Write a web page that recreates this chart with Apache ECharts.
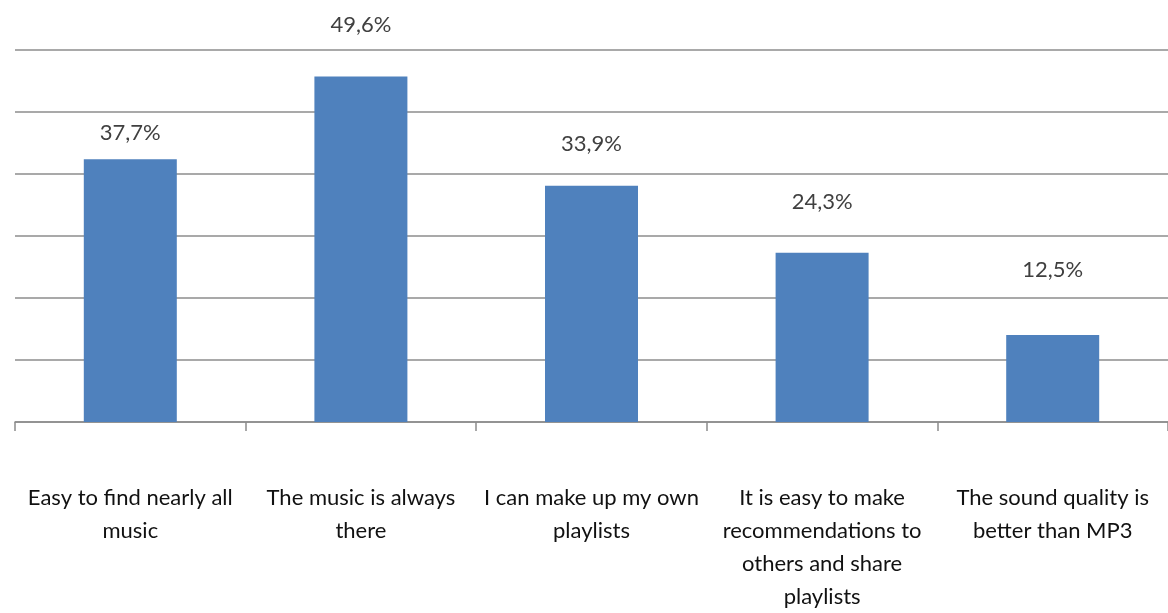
<!DOCTYPE html>
<html>
<head>
<meta charset="utf-8">
<title>Reasons for using streaming music</title>
<script src="https://cdn.jsdelivr.net/npm/echarts@6/dist/echarts.min.js"></script>
<style>
  html, body { margin: 0; padding: 0; background: #ffffff; }
  #chart { width: 1168px; height: 613px; }
</style>
</head>
<body>
<div id="chart"></div>
<script>
// Survey answers (share of respondents, %)
var categories = [
  'Easy to find nearly all\nmusic',
  'The music is always\nthere',
  'I can make up my own\nplaylists',
  'It is easy to make\nrecommendations to\nothers and share\nplaylists',
  'The sound quality is\nbetter than MP3'
];
var shares = [37.7, 49.6, 33.9, 24.3, 12.5];
// Gap between each value label and the top of its bar
var labelGaps = [15, 41, 31, 40, 54];

var gridColor = '#8c8c8c';
var fontFamily = 'Lato, "Open Sans", sans-serif';

var chart = echarts.init(document.getElementById('chart'), null, { renderer: 'canvas' });

chart.setOption({
  animation: false,
  grid: { left: 15, right: 0, top: 50, bottom: 185.5, containLabel: false },
  xAxis: {
    type: 'category',
    data: categories,
    boundaryGap: true,
    axisLine: { show: true, lineStyle: { color: gridColor, width: 1.5 } },
    axisTick: { show: true, length: 9, lineStyle: { color: gridColor, width: 1.5 } },
    axisLabel: {
      interval: 0,
      margin: 59,
      color: '#111111',
      fontFamily: fontFamily,
      fontSize: 22,
      lineHeight: 33,
      align: 'center'
    }
  },
  yAxis: {
    type: 'value',
    min: 0,
    max: 53.4,
    interval: 8.9,
    axisLine: { show: false },
    axisTick: { show: false },
    axisLabel: { show: false },
    splitLine: { show: true, lineStyle: { color: gridColor, width: 1.5 } }
  },
  series: [{
    type: 'bar',
    barWidth: 93,
    itemStyle: { color: '#4f81bd' },
    label: {
      show: true,
      position: 'top',
      color: '#404040',
      fontFamily: fontFamily,
      fontSize: 22,
      formatter: function (p) {
        return p.value.toFixed(1).replace('.', ',') + '%';
      }
    },
    data: shares.map(function (v, i) {
      return { value: v, label: { distance: labelGaps[i] } };
    })
  }]
});
</script>
</body>
</html>
